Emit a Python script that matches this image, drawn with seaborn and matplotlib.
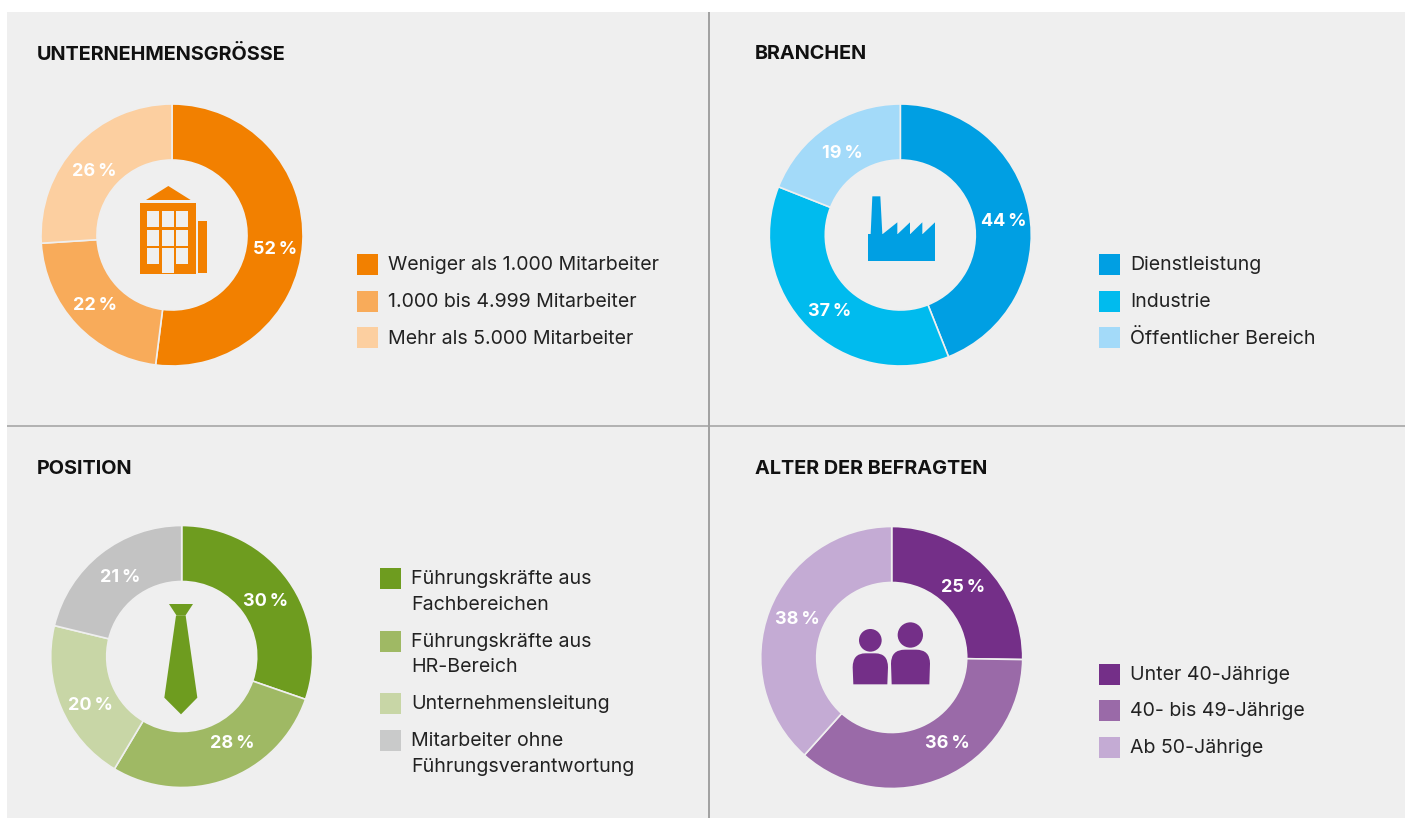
import matplotlib
matplotlib.use("Agg")
import matplotlib.pyplot as plt
import seaborn as sns
from matplotlib.patches import Rectangle, Polygon, Circle, PathPatch
from matplotlib.path import Path

# ---------- data ----------
titles = ["UNTERNEHMENSGRÖSSE", "BRANCHEN", "POSITION", "ALTER DER BEFRAGTEN"]
size_values = [52, 22, 26]
branch_values = [44, 37, 19]
position_values = [30, 28, 20, 21]
age_values = [25, 36, 38]
size_labels = ["Weniger als 1.000 Mitarbeiter", "1.000 bis 4.999 Mitarbeiter", "Mehr als 5.000 Mitarbeiter"]
branch_labels = ["Dienstleistung", "Industrie", "Öffentlicher Bereich"]
position_labels = ["Führungskräfte aus\nFachbereichen", "Führungskräfte aus\nHR-Bereich",
                   "Unternehmensleitung", "Mitarbeiter ohne\nFührungsverantwortung"]
age_labels = ["Unter 40-Jährige", "40- bis 49-Jährige", "Ab 50-Jährige"]
size_colors = ["#F28000", "#F8AB5A", "#FCCFA0"]
branch_colors = ["#009FE3", "#00BBEE", "#A3DAF9"]
position_colors = ["#6E9C1F", "#9FB964", "#C8D6A6", "#C3C3C3"]
position_swatches = ["#6E9C1F", "#9FB964", "#C8D6A6", "#C9CACA"]
age_colors = ["#742F88", "#9A6AA8", "#C4ABD4"]

# ---------- layout (pixels) ----------
W, H = 1405, 818
BG = "#EFEFEF"
FONT = "Inter"
pies = [
    dict(v=size_values, c=size_colors, s=size_colors, l=size_labels, cx=172, cy=235, r=131,
         title=(37, 54), lx=357, ly=[264.5, 301, 337.5],
         pct=[(275, 249), (95, 306), (94, 172)]),
    dict(v=branch_values, c=branch_colors, s=branch_colors, l=branch_labels, cx=900.3, cy=235, r=131,
         title=(755, 54), lx=1099, ly=[264.5, 301, 337.5],
         pct=[(1004, 221), (830, 312), (842, 153)]),
    dict(v=position_values, c=position_colors, s=position_swatches, l=position_labels, cx=181.7, cy=656.5, r=131,
         title=(37, 469), lx=380, ly=[578, 641, 703, 740],
         pct=[(266, 602), (232, 744), (90, 705), (120, 577)]),
    dict(v=age_values, c=age_colors, s=age_colors, l=age_labels, cx=891.7, cy=657.5, r=131,
         title=(755, 469), lx=1099, ly=[674, 710.5, 747],
         pct=[(963, 587), (947, 744), (797, 620)]),
]

sns.set_theme(style="white")
plt.rcParams["font.family"] = [FONT, "DejaVu Sans"]
fig = plt.figure(figsize=(W / 100, H / 100), dpi=100, facecolor="white")

bg = fig.add_axes([0, 0, 1, 1], zorder=0)
bg.set_xlim(0, W); bg.set_ylim(H, 0); bg.axis("off")
bg.add_patch(Rectangle((7, 12), W - 7, H - 12, fc=BG, ec="none"))
bg.plot([709, 709], [12, H], color="#A0A0A0", lw=1.4, solid_capstyle="butt")
bg.plot([7, W], [426, 426], color="#A0A0A0", lw=1.1, solid_capstyle="butt")

for p in pies:
    r = p["r"]
    ax = fig.add_axes([(p["cx"] - r) / W, 1 - (p["cy"] + r) / H, 2 * r / W, 2 * r / H], zorder=1)
    ax.pie(p["v"], colors=sns.color_palette(p["c"]), startangle=90, counterclock=False, radius=1,
           wedgeprops=dict(width=56 / r, edgecolor=BG, linewidth=1.2))
    ax.set_xlim(-1, 1); ax.set_ylim(-1, 1); ax.set_aspect("equal"); ax.axis("off")

top = fig.add_axes([0, 0, 1, 1], zorder=2)
top.set_xlim(0, W); top.set_ylim(H, 0); top.axis("off"); top.patch.set_alpha(0)

LABEL_PT = 14.1
for p, title in zip(pies, titles):
    top.text(*p["title"], title, fontsize=14.3, fontweight="bold", color="#111111", va="center", ha="left")
    for (x, y), val in zip(p["pct"], p["v"]):
        top.text(x, y, f"{val}\u2009%", fontsize=13, fontweight="bold", color="white", va="center", ha="center")
    for lab, col, y in zip(p["l"], p["s"], p["ly"]):
        top.add_patch(Rectangle((p["lx"], y - 10.5), 21, 21, fc=col, ec="none"))
        for i, line in enumerate(lab.split("\n")):
            top.text(p["lx"] + 31, y + 1 + i * 25.5, line, fontsize=LABEL_PT, color="#222222", va="center", ha="left")


def Z(ox, oy):
    return lambda x, y: (ox + x / 3, oy + y / 3)


def poly(z, pts, col):
    top.add_patch(Polygon([z(*q) for q in pts], closed=True, fc=col, ec="none"))


def rect(z, x0, y0, x1, y1, col):
    poly(z, [(x0, y0), (x1, y0), (x1, y1), (x0, y1)], col)


# building icon
z = Z(30, 90); c = size_colors[0]
poly(z, [(348, 330), (415, 288), (482, 330)], c)
rect(z, 330, 339, 498, 552, c)
rect(z, 504, 393, 531, 549, c)
for x0, x1 in [(351, 387), (396, 432), (438, 474)]:
    for y0, y1 in [(363, 411), (420, 468), (474, 522)]:
        rect(z, x0, y0, x1, y1, BG)
rect(z, 396, 474, 432, 549, BG)

# factory icon
z = Z(760, 90); c = branch_colors[0]
poly(z, [(337, 319), (361, 319), (367, 432), (332, 432)], c)
rect(z, 324, 432, 525, 513, c)
for x0, x1 in [(367, 412), (412, 450), (450, 487), (487, 525)]:
    poly(z, [(x0, 433), (x1, 397), (x1, 433)], c)

# tie icon
z = Z(40, 515); c = position_colors[0]
poly(z, [(387, 267), (459, 267), (436, 302), (410, 302)], c)
poly(z, [(408, 302), (437, 302), (472, 548), (423, 598), (373, 548)], c)


# people icon
def body(z, x0, x1, ytop, ybot, col):
    w = x1 - x0
    pts = [(x0 + 2, ybot), (x0, ytop + 42), (x0, ytop), (x0 + 0.36 * w, ytop), (x0 + 0.64 * w, ytop),
           (x1, ytop), (x1, ytop + 42), (x1 - 2, ybot), (x0 + 2, ybot)]
    codes = [Path.MOVETO, Path.LINETO, Path.CURVE3, Path.CURVE3, Path.LINETO, Path.CURVE3, Path.CURVE3,
             Path.LINETO, Path.CLOSEPOLY]
    top.add_patch(PathPatch(Path([z(*q) for q in pts], codes), fc=col, ec="none"))


z = Z(750, 515); c = age_colors[0]
top.add_patch(Circle(z(361, 376), 34 / 3, fc=c, ec="none"))
top.add_patch(Circle(z(481, 360), 38 / 3, fc=c, ec="none"))
body(z, 308, 414, 415, 508, c)
body(z, 423, 540, 404, 508, c)

fig.savefig("out.png", dpi=100, facecolor="white")
